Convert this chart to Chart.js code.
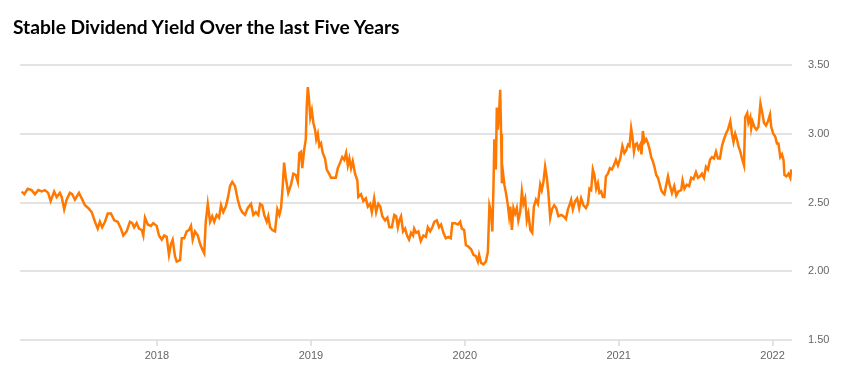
<!DOCTYPE html>
<html>
<head>
<meta charset="utf-8">
<script src="https://cdn.jsdelivr.net/npm/chart.js@4"></script>
<style>
  html, body { margin: 0; padding: 0; background: #fff; }
  #wrap { position: relative; width: 850px; height: 373px; }
  #title {
    position: absolute; left: 13px; top: 15px;
    font-family: Lato, "Open Sans", sans-serif; font-weight: bold; font-size: 19.2px;
    color: #000; white-space: nowrap;
  }
  canvas { position: absolute; left: 0; top: 0; }
</style>
</head>
<body>
<div id="wrap">
  <canvas id="chart" width="850" height="373"></canvas>
  <div id="title">Stable Dividend Yield Over the last Five Years</div>
</div>
<script>
// dates as decimal years
const dates = [
  2017.121, 2017.138, 2017.160, 2017.186, 2017.207, 2017.229, 2017.251, 2017.272, 2017.293, 2017.309,
  2017.332, 2017.348, 2017.369, 2017.381, 2017.397, 2017.413, 2017.434, 2017.449, 2017.467, 2017.493,
  2017.511, 2017.532, 2017.553, 2017.576, 2017.597, 2017.615, 2017.629, 2017.644, 2017.662, 2017.680,
  2017.701, 2017.722, 2017.745, 2017.766, 2017.781, 2017.803, 2017.824, 2017.839, 2017.852, 2017.868,
  2017.883, 2017.901, 2017.911, 2017.922, 2017.940, 2017.961, 2017.976, 2017.998, 2018.013, 2018.031,
  2018.047, 2018.063, 2018.078, 2018.091, 2018.102, 2018.117, 2018.128, 2018.150, 2018.161, 2018.177,
  2018.193, 2018.208, 2018.221, 2018.232, 2018.247, 2018.265, 2018.280, 2018.294, 2018.307, 2018.317,
  2018.330, 2018.345, 2018.359, 2018.372, 2018.388, 2018.403, 2018.416, 2018.431, 2018.447, 2018.460,
  2018.475, 2018.489, 2018.507, 2018.525, 2018.540, 2018.554, 2018.572, 2018.590, 2018.611, 2018.626,
  2018.642, 2018.658, 2018.670, 2018.684, 2018.697, 2018.713, 2018.723, 2018.735, 2018.749, 2018.767,
  2018.782, 2018.795, 2018.806, 2018.817, 2018.826, 2018.837, 2018.853, 2018.871, 2018.886, 2018.902,
  2018.915, 2018.925, 2018.936, 2018.944, 2018.956, 2018.967, 2018.973, 2018.980, 2018.988, 2018.996,
  2019.006, 2019.016, 2019.027, 2019.035, 2019.045, 2019.055, 2019.066, 2019.077, 2019.092, 2019.103,
  2019.118, 2019.131, 2019.146, 2019.162, 2019.175, 2019.190, 2019.204, 2019.217, 2019.229, 2019.240,
  2019.250, 2019.261, 2019.272, 2019.287, 2019.302, 2019.308, 2019.326, 2019.341, 2019.357, 2019.370,
  2019.385, 2019.396, 2019.411, 2019.424, 2019.438, 2019.451, 2019.464, 2019.482, 2019.497, 2019.510,
  2019.526, 2019.542, 2019.554, 2019.565, 2019.575, 2019.586, 2019.599, 2019.612, 2019.625, 2019.638,
  2019.651, 2019.664, 2019.671, 2019.684, 2019.698, 2019.714, 2019.731, 2019.747, 2019.760, 2019.775,
  2019.789, 2019.802, 2019.818, 2019.833, 2019.846, 2019.861, 2019.877, 2019.893, 2019.909, 2019.919,
  2019.937, 2019.955, 2019.970, 2019.981, 2019.996, 2020.007, 2020.023, 2020.041, 2020.056, 2020.072,
  2020.085, 2020.093, 2020.106, 2020.121, 2020.137, 2020.150, 2020.160, 2020.171, 2020.179, 2020.186,
  2020.192, 2020.202, 2020.208, 2020.215, 2020.223, 2020.230, 2020.236, 2020.241, 2020.249, 2020.257,
  2020.269, 2020.280, 2020.288, 2020.296, 2020.306, 2020.316, 2020.327, 2020.338, 2020.348, 2020.360,
  2020.371, 2020.381, 2020.392, 2020.403, 2020.413, 2020.426, 2020.438, 2020.449, 2020.462, 2020.475,
  2020.490, 2020.500, 2020.511, 2020.522, 2020.533, 2020.543, 2020.555, 2020.566, 2020.581, 2020.594,
  2020.608, 2020.626, 2020.641, 2020.657, 2020.670, 2020.680, 2020.691, 2020.702, 2020.717, 2020.730,
  2020.743, 2020.756, 2020.771, 2020.787, 2020.800, 2020.810, 2020.821, 2020.832, 2020.842, 2020.854,
  2020.865, 2020.875, 2020.886, 2020.897, 2020.907, 2020.917, 2020.930, 2020.943, 2020.956, 2020.969,
  2020.982, 2020.995, 2021.010, 2021.024, 2021.037, 2021.049, 2021.060, 2021.070, 2021.081, 2021.089,
  2021.099, 2021.107, 2021.118, 2021.128, 2021.140, 2021.148, 2021.157, 2021.167, 2021.179, 2021.190,
  2021.200, 2021.211, 2021.222, 2021.232, 2021.244, 2021.255, 2021.265, 2021.276, 2021.287, 2021.297,
  2021.309, 2021.320, 2021.331, 2021.346, 2021.361, 2021.374, 2021.388, 2021.406, 2021.415, 2021.427,
  2021.443, 2021.458, 2021.471, 2021.486, 2021.502, 2021.515, 2021.528, 2021.541, 2021.554, 2021.567,
  2021.580, 2021.593, 2021.606, 2021.619, 2021.632, 2021.645, 2021.658, 2021.671, 2021.684, 2021.697,
  2021.710, 2021.725, 2021.736, 2021.746, 2021.757, 2021.768, 2021.778, 2021.790, 2021.801, 2021.814,
  2021.822, 2021.835, 2021.843, 2021.855, 2021.861, 2021.869, 2021.882, 2021.895, 2021.908, 2021.921,
  2021.933, 2021.944, 2021.957, 2021.970, 2021.983, 2021.991, 2022.004, 2022.017, 2022.028, 2022.038,
  2022.050, 2022.061, 2022.071, 2022.077, 2022.090, 2022.103, 2022.115, 2022.121
];

// dividend yield (%)
const yieldValues = [
  2.58, 2.56, 2.60, 2.59, 2.56, 2.59, 2.58, 2.59, 2.57, 2.51,
  2.58, 2.54, 2.57, 2.54, 2.45, 2.52, 2.57, 2.56, 2.52, 2.57,
  2.53, 2.48, 2.46, 2.43, 2.36, 2.31, 2.36, 2.32, 2.36, 2.42,
  2.42, 2.37, 2.36, 2.31, 2.26, 2.29, 2.36, 2.35, 2.32, 2.35,
  2.31, 2.30, 2.26, 2.39, 2.34, 2.33, 2.35, 2.33, 2.26, 2.23,
  2.26, 2.25, 2.12, 2.20, 2.23, 2.11, 2.07, 2.08, 2.24, 2.24,
  2.29, 2.30, 2.33, 2.23, 2.29, 2.26, 2.20, 2.16, 2.13, 2.36,
  2.49, 2.36, 2.40, 2.36, 2.41, 2.39, 2.48, 2.43, 2.47, 2.53,
  2.62, 2.65, 2.62, 2.52, 2.46, 2.43, 2.41, 2.46, 2.49, 2.41,
  2.43, 2.41, 2.49, 2.48, 2.41, 2.36, 2.40, 2.32, 2.30, 2.29,
  2.45, 2.41, 2.46, 2.62, 2.79, 2.68, 2.57, 2.63, 2.71, 2.70,
  2.65, 2.86, 2.87, 2.75, 2.88, 2.96, 3.20, 3.34, 3.25, 3.12,
  3.17, 3.08, 3.03, 2.96, 3.00, 2.91, 2.93, 2.86, 2.82, 2.74,
  2.71, 2.68, 2.68, 2.68, 2.75, 2.79, 2.83, 2.81, 2.86, 2.77,
  2.82, 2.75, 2.80, 2.71, 2.66, 2.54, 2.56, 2.51, 2.53, 2.47,
  2.49, 2.43, 2.53, 2.43, 2.49, 2.47, 2.40, 2.37, 2.39, 2.32,
  2.32, 2.41, 2.40, 2.32, 2.37, 2.40, 2.29, 2.31, 2.26, 2.23,
  2.28, 2.26, 2.31, 2.28, 2.29, 2.22, 2.26, 2.25, 2.32, 2.29,
  2.32, 2.36, 2.37, 2.32, 2.34, 2.28, 2.24, 2.25, 2.24, 2.35,
  2.35, 2.34, 2.36, 2.31, 2.30, 2.19, 2.18, 2.16, 2.12, 2.11,
  2.07, 2.12, 2.06, 2.05, 2.07, 2.14, 2.48, 2.43, 2.29, 2.60,
  2.96, 2.74, 3.19, 3.03, 3.16, 3.32, 3.00, 2.64, 2.71, 2.63,
  2.56, 2.48, 2.40, 2.47, 2.30, 2.46, 2.42, 2.46, 2.37, 2.43,
  2.58, 2.49, 2.53, 2.37, 2.42, 2.30, 2.28, 2.47, 2.52, 2.49,
  2.63, 2.59, 2.65, 2.76, 2.68, 2.57, 2.39, 2.45, 2.48, 2.46,
  2.40, 2.41, 2.40, 2.38, 2.45, 2.48, 2.52, 2.45, 2.51, 2.53,
  2.46, 2.53, 2.48, 2.46, 2.49, 2.60, 2.59, 2.74, 2.70, 2.60,
  2.64, 2.57, 2.58, 2.54, 2.54, 2.69, 2.71, 2.75, 2.74, 2.77,
  2.81, 2.77, 2.82, 2.91, 2.86, 2.88, 2.92, 2.91, 3.04, 2.98,
  2.87, 2.92, 2.93, 2.89, 2.92, 2.85, 3.02, 2.94, 2.96, 2.93,
  2.89, 2.83, 2.80, 2.76, 2.70, 2.68, 2.64, 2.59, 2.57, 2.56,
  2.63, 2.69, 2.63, 2.57, 2.62, 2.55, 2.58, 2.59, 2.66, 2.60,
  2.63, 2.62, 2.68, 2.67, 2.72, 2.68, 2.69, 2.71, 2.68, 2.76,
  2.74, 2.81, 2.83, 2.82, 2.87, 2.82, 2.82, 2.91, 2.96, 3.00,
  3.03, 3.09, 3.00, 2.94, 3.00, 2.96, 2.91, 2.87, 2.82, 2.77,
  3.12, 3.15, 3.08, 3.12, 3.04, 3.09, 3.05, 3.03, 3.05, 3.22,
  3.15, 3.08, 3.06, 3.09, 3.14, 3.05, 3.00, 2.98, 2.93, 2.93,
  2.83, 2.85, 2.81, 2.70, 2.69, 2.71, 2.68, 2.74
];

const xMin = 2017.11;
const xMax = 2022.126;
const yTicks = [1.5, 2.0, 2.5, 3.0, 3.5];

const points = dates.map((d, i) => ({ x: d, y: yieldValues[i] }));

const ctx = document.getElementById('chart').getContext('2d');

new Chart(ctx, {
  type: 'line',
  data: {
    datasets: [{
      data: points,
      borderColor: 'rgb(255, 120, 0)',
      borderWidth: 2.5,
      pointRadius: 0,
      tension: 0,
      fill: false
    }]
  },
  options: {
    responsive: false,
    animation: false,
    layout: { padding: { left: 20, top: 65, right: 0, bottom: 0 } },
    plugins: {
      legend: { display: false },
      tooltip: { enabled: false }
    },
    scales: {
      x: {
        type: 'linear',
        min: xMin,
        max: xMax,
        border: { display: false },
        grid: {
          drawOnChartArea: false,
          drawTicks: true,
          tickLength: 6,
          color: '#e3e3e3',
          lineWidth: 2
        },
        ticks: {
          stepSize: 1,
          includeBounds: false,
          padding: 3,
          color: '#666',
          font: { family: '"Liberation Sans", Arial, sans-serif', size: 11 },
          callback: v => Number.isInteger(v) ? String(v) : ''
        },
        afterFit: s => { s.height = 33; }
      },
      y: {
        position: 'right',
        min: yTicks[0],
        max: yTicks[yTicks.length - 1],
        border: { display: false },
        grid: {
          drawTicks: false,
          color: '#e3e3e3',
          lineWidth: 2
        },
        ticks: {
          stepSize: 0.5,
          padding: 16,
          color: '#666',
          font: { family: '"Liberation Sans", Arial, sans-serif', size: 11 },
          callback: v => v.toFixed(2)
        },
        afterFit: s => { s.width = 58; }
      }
    }
  }
});
</script>
</body>
</html>
